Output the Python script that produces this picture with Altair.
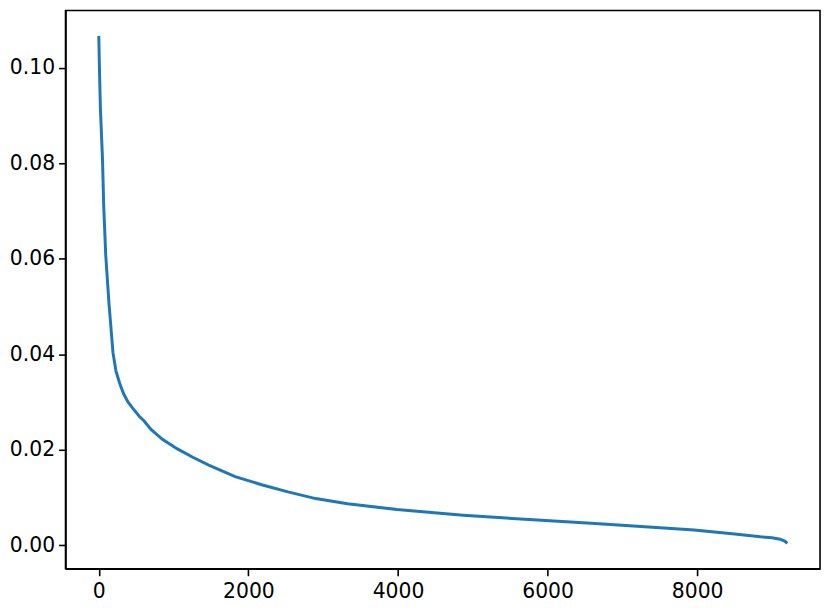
import altair as alt
import pandas as pd

# values (sorted, decreasing curve)
idx = [0, 10, 22, 49, 66, 93, 137, 190, 230, 278, 330, 388, 450, 543, 609, 698,
       850, 1051, 1250, 1470, 1823, 2176, 2529, 2900, 3325, 3987, 4870, 5752,
       6636, 7300, 7960, 8500, 8843, 9000, 9108, 9170, 9205]
val = [0.1067, 0.0990, 0.0913, 0.0811, 0.0710, 0.0607, 0.0505, 0.0403, 0.0365,
       0.0340, 0.0318, 0.0301, 0.0288, 0.0270, 0.0260, 0.0243, 0.0222, 0.0202,
       0.0185, 0.0168, 0.0144, 0.0127, 0.0112, 0.0098, 0.0087, 0.0075, 0.0063,
       0.0054, 0.0046, 0.0039, 0.0032, 0.0024, 0.0018, 0.0016, 0.0013, 0.0009,
       0.0004]
x_ticks = [0, 2000, 4000, 6000, 8000]
y_ticks = [0.0, 0.02, 0.04, 0.06, 0.08, 0.10]

df = pd.DataFrame({"i": idx, "v": val})

chart = alt.Chart(df).mark_line(color="#1f77b4", strokeWidth=3).encode(
    x=alt.X("i:Q", scale=alt.Scale(domain=[-445, 9642], nice=False, zero=False),
            axis=alt.Axis(values=x_ticks, format="d", title=None, labelPadding=6)),
    y=alt.Y("v:Q", scale=alt.Scale(domain=[-0.0049, 0.112], nice=False, zero=False),
            axis=alt.Axis(values=y_ticks, format=".2f", title=None, labelPadding=4)),
).properties(
    width=761, height=563,
    autosize=alt.AutoSizeParams(type="none"),
    padding={"left": 58, "top": 0, "right": 2, "bottom": 40},
).configure_view(
    stroke="black", strokeWidth=1.6
).configure_axis(
    grid=False,
    domainColor="black", domainWidth=1.6,
    tickColor="black", tickWidth=1.6, tickSize=7,
    labelFont="DejaVu Sans", labelFontSize=20.5, labelColor="black",
)

chart.save("out.html", embed_options={"renderer": "svg", "actions": False})
